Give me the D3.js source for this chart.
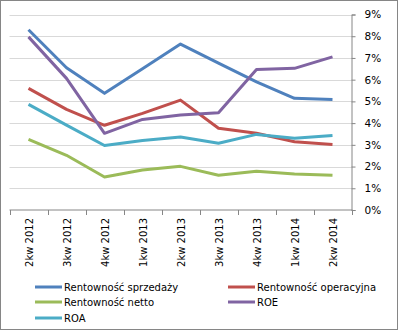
<!DOCTYPE html>
<html>
<head>
<meta charset="utf-8">
<script src="https://cdn.jsdelivr.net/npm/d3@7"></script>
<style>
  body { margin: 0; background: #fff; }
  svg text { font-family: "DejaVu Sans", sans-serif; fill: #000; }
</style>
</head>
<body>
<div id="chart"></div>
<script>
/* DATA */
const quarters = ["2kw 2012", "3kw 2012", "4kw 2012", "1kw 2013", "2kw 2013", "3kw 2013", "4kw 2013", "1kw 2014", "2kw 2014"];
const sprzedazy = [8.3, 6.55, 5.37, 6.5, 7.64, 6.76, 5.9, 5.14, 5.09];
const operacyjna = [5.6, 4.63, 3.9, 4.45, 5.06, 3.76, 3.53, 3.14, 3.02];
const netto = [3.25, 2.52, 1.52, 1.84, 2.01, 1.6, 1.78, 1.66, 1.6];
const roe = [7.97, 6.06, 3.53, 4.17, 4.37, 4.48, 6.47, 6.52, 7.05];
const roa = [4.86, 3.91, 2.97, 3.2, 3.36, 3.07, 3.48, 3.3, 3.43];
const yTicks = [0, 1, 2, 3, 4, 5, 6, 7, 8, 9];

const series = [
  { name: "Rentowność sprzedaży", values: sprzedazy, color: "#4F81BD" },
  { name: "Rentowność operacyjna", values: operacyjna, color: "#C0504D" },
  { name: "Rentowność netto", values: netto, color: "#9BBB59" },
  { name: "ROE", values: roe, color: "#8064A2" },
  { name: "ROA", values: roa, color: "#4BACC6" }
];

const width = 398, height = 330;
const plot = { left: 9.5, right: 351.5, top: 14.5, bottom: 210 };

const svg = d3.select("#chart").append("svg")
  .attr("width", width)
  .attr("height", height);

// outer frame
svg.append("rect")
  .attr("x", 0.5).attr("y", 0.5)
  .attr("width", width - 1).attr("height", height - 1)
  .attr("fill", "#fff")
  .attr("stroke", "#868686");

/* SCALES */
const xScale = d3.scaleBand()
  .domain(quarters)
  .range([plot.left, plot.right]);

const yScale = d3.scaleLinear()
  .domain([0, 9])
  .range([plot.bottom, plot.top]);

// gridlines
svg.append("g")
  .selectAll("line")
  .data(yTicks.filter(d => d > 0))
  .join("line")
  .attr("x1", plot.left).attr("x2", plot.right)
  .attr("y1", d => Math.round(yScale(d)) + 0.5)
  .attr("y2", d => Math.round(yScale(d)) + 0.5)
  .attr("stroke", "#D9D9D9");

/* AXES */
const yAxis = d3.axisRight(yScale)
  .tickValues(yTicks)
  .tickFormat(d => d + "%")
  .tickSize(4)
  .tickPadding(9);

const yG = svg.append("g")
  .attr("transform", `translate(${plot.right},0)`)
  .call(yAxis);
yG.select(".domain").attr("stroke", "#868686");
yG.selectAll(".tick line").attr("stroke", "#868686");
yG.selectAll(".tick text").attr("font-size", 10.5).attr("font-family", "DejaVu Sans");

// category axis: ticks on band edges
const xG = svg.append("g")
  .attr("transform", `translate(0,${plot.bottom})`);
xG.append("line")
  .attr("x1", plot.left).attr("x2", plot.right + 1)
  .attr("stroke", "#868686");
xG.selectAll(".edge")
  .data(quarters.concat(["end"]))
  .join("line")
  .attr("class", "edge")
  .attr("x1", (d, i) => Math.round(plot.left + i * xScale.step()) + 0.5)
  .attr("x2", (d, i) => Math.round(plot.left + i * xScale.step()) + 0.5)
  .attr("y1", 0).attr("y2", 5)
  .attr("stroke", "#868686");
xG.selectAll("text")
  .data(quarters)
  .join("text")
  .attr("transform", d => `translate(${xScale(d) + xScale.bandwidth() / 2 + 4},8) rotate(-90)`)
  .attr("text-anchor", "end")
  .attr("font-size", 10)
  .text(d => d);

/* LINES */
const line = d3.line()
  .x((d, i) => xScale(quarters[i]) + xScale.bandwidth() / 2)
  .y(d => yScale(d));

svg.append("g")
  .selectAll("path")
  .data(series)
  .join("path")
  .attr("d", d => line(d.values))
  .attr("fill", "none")
  .attr("stroke", d => d.color)
  .attr("stroke-width", 3)
  .attr("stroke-linejoin", "round");

/* LEGEND */
const legendPos = [[35, 287], [228, 287], [35, 302], [228, 302], [35, 318]];
const legend = svg.append("g")
  .selectAll("g")
  .data(series)
  .join("g")
  .attr("transform", (d, i) => `translate(${legendPos[i][0]},${legendPos[i][1]})`);
legend.append("line")
  .attr("x1", 0).attr("x2", 27)
  .attr("stroke", d => d.color)
  .attr("stroke-width", 3);
legend.append("text")
  .attr("x", 29).attr("y", 4)
  .attr("font-size", 10)
  .text(d => d.name);
</script>
</body>
</html>
